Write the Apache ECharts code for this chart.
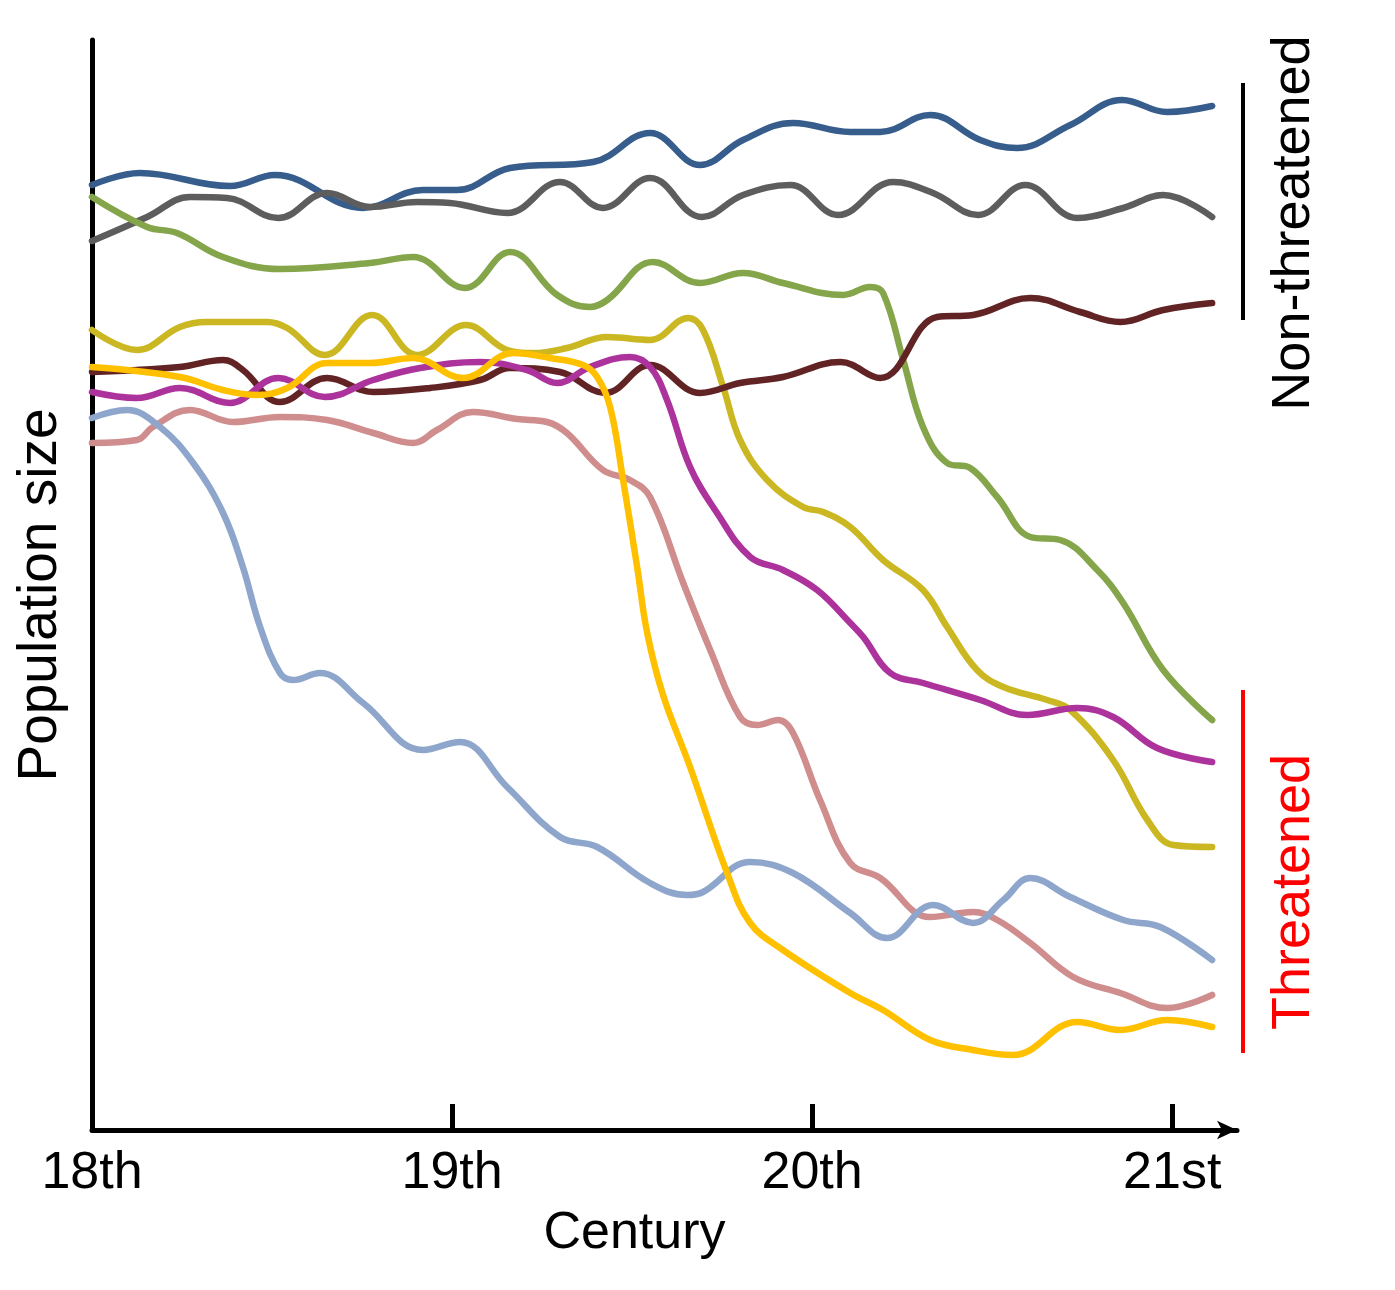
<!DOCTYPE html>
<html>
<head>
<meta charset="utf-8">
<script src="https://cdn.jsdelivr.net/npm/echarts@6/dist/echarts.min.js"></script>
<style>
  html, body { margin: 0; padding: 0; background: #fff; }
  #chart { width: 1395px; height: 1290px; }
</style>
</head>
<body>
<div id="chart"></div>
<script>
// x = centuries since start of 18th, y = population index
const centuryLabels = ['18th', '19th', '20th', '21st']

const darkBlue = [[0,945],[0.133,957],[0.383,944],[0.508,955],[0.753,922],[0.919,940],[1.014,940],[1.161,962],[1.392,968],[1.55,997],[1.689,965],[1.808,990],[1.947,1007],[2.106,998],[2.189,998],[2.328,1015],[2.467,990],[2.569,982],[2.717,1005],[2.861,1030],[2.986,1018],[3.111,1024]]
const grey = [[0,889],[0.153,913],[0.272,933],[0.375,932],[0.517,912],[0.653,937],[0.772,923],[0.903,928],[0.994,927],[1.153,917],[1.3,948],[1.419,922],[1.55,952],[1.694,913],[1.808,935],[1.939,945],[2.072,915],[2.225,948],[2.336,937],[2.461,915],[2.592,945],[2.736,912],[2.864,922],[2.975,935],[3.111,913]]
const green = [[0,933],[0.153,903],[0.236,897],[0.364,873],[0.522,861],[0.772,867],[0.892,873],[1.036,842],[1.161,878],[1.292,835],[1.383,823],[1.431,830],[1.558,868],[1.689,847],[1.808,857],[1.919,847],[2.086,835],[2.161,843],[2.197,837],[2.253,770],[2.308,703],[2.375,667],[2.439,662],[2.514,633],[2.606,593],[2.689,590],[2.792,560],[2.864,527],[2.975,460],[3.111,410]]
const olive = [[0,800],[0.125,780],[0.244,803],[0.319,808],[0.486,808],[0.542,802],[0.647,775],[0.778,815],[0.903,775],[1.039,805],[1.153,780],[1.225,777],[1.319,782],[1.431,793],[1.55,790],[1.656,812],[1.697,800],[1.753,743],[1.8,690],[1.875,650],[1.975,623],[2.031,618],[2.106,603],[2.197,570],[2.308,540],[2.375,503],[2.458,460],[2.531,443],[2.653,430],[2.717,420],[2.836,370],[2.931,310],[3.003,285],[3.111,283]]
const maroon = [[0,758],[0.244,763],[0.364,770],[0.419,760],[0.522,728],[0.653,752],[0.781,738],[0.939,742],[1.078,750],[1.161,762],[1.3,758],[1.425,737],[1.55,765],[1.689,737],[1.8,747],[1.919,753],[2.078,768],[2.189,752],[2.347,813],[2.447,815],[2.606,832],[2.744,818],[2.856,808],[2.975,820],[3.111,827]]
const purple = [[0,738],[0.125,732],[0.244,742],[0.383,727],[0.517,752],[0.647,733],[0.781,750],[0.911,762],[1.078,768],[1.208,760],[1.292,747],[1.383,763],[1.494,773],[1.55,763],[1.597,730],[1.661,663],[1.736,617],[1.828,573],[1.919,560],[2.014,540],[2.106,507],[2.142,493],[2.217,457],[2.308,447],[2.467,430],[2.597,415],[2.736,422],[2.836,413],[2.958,382],[3.111,368]]
const pink = [[0,687],[0.125,690],[0.169,703],[0.272,720],[0.392,708],[0.522,713],[0.653,710],[0.781,697],[0.892,687],[0.958,700],[1.058,718],[1.181,711],[1.264,708],[1.319,697],[1.419,660],[1.494,650],[1.55,633],[1.642,547],[1.717,480],[1.8,413],[1.847,405],[1.906,410],[1.947,397],[2.022,330],[2.106,267],[2.189,252],[2.328,213],[2.447,218],[2.514,210],[2.606,187],[2.725,153],[2.856,137],[2.986,122],[3.111,135]]
const lightBlue = [[0,712],[0.097,720],[0.189,703],[0.281,667],[0.364,617],[0.419,563],[0.467,503],[0.522,457],[0.558,450],[0.633,457],[0.753,427],[0.919,380],[1.022,388],[1.153,343],[1.3,293],[1.403,283],[1.55,247],[1.653,235],[1.697,238],[1.828,268],[1.947,257],[2.106,217],[2.208,192],[2.336,225],[2.447,207],[2.531,230],[2.606,252],[2.717,233],[2.864,210],[2.967,203],[3.111,170]]
const yellow = [[0,763],[0.244,753],[0.364,740],[0.458,735],[0.542,742],[0.653,767],[0.772,767],[0.892,772],[1.031,752],[1.169,777],[1.272,772],[1.364,765],[1.403,753],[1.439,723],[1.475,650],[1.514,563],[1.542,497],[1.586,435],[1.661,363],[1.764,257],[1.828,207],[1.919,180],[2.106,137],[2.197,120],[2.328,90],[2.447,80],[2.558,75],[2.736,108],[2.856,100],[2.986,110],[3.111,103]]

const seriesList = [
    {data: darkBlue, color: '#365D8B'},
    {data: grey, color: '#5D5D5D'},
    {data: green, color: '#85A54A'},
    {data: olive, color: '#CAB722'},
    {data: maroon, color: '#612323'},
    {data: purple, color: '#AD339C'},
    {data: pink, color: '#D08D8D'},
    {data: lightBlue, color: '#8EA6CB'},
    {data: yellow, color: '#FFC000'}
]

const font = '"Liberation Sans", Arial, sans-serif'

let myChart = echarts.init(document.getElementById('chart'))
myChart.setOption({
    animation: false,
    backgroundColor: '#fff',
    grid: {
        left: 92,
        right: 158,
        top: 40,
        bottom: 160
    },
    xAxis: {
        type: 'value',
        min: 0,
        max: 3.18,
        interval: 1,
        name: 'Century',
        nameLocation: 'middle',
        nameGap: 78,
        nameTextStyle: {fontSize: 52, color: '#000', fontFamily: font, padding: [0, 60, 0, 0]},
        axisLine: {
            show: true,
            symbol: ['none', 'arrow'],
            symbolSize: [14, 20],
            lineStyle: {color: '#000', width: 5}
        },
        axisTick: {
            show: true,
            inside: true,
            length: 26,
            customValues: [1, 2, 3],
            lineStyle: {color: '#000', width: 5}
        },
        axisLabel: {
            customValues: [0, 1, 2, 3],
            formatter: function (v) { return centuryLabels[Math.round(v)] },
            fontSize: 52,
            color: '#000',
            fontFamily: font,
            margin: 18
        },
        splitLine: {show: false}
    },
    yAxis: {
        type: 'value',
        min: 0,
        max: 1090,
        name: 'Population size',
        nameLocation: 'middle',
        nameGap: 24,
        nameTextStyle: {fontSize: 55, color: '#000', fontFamily: font, padding: [0, 20, 0, 0]},
        axisLine: {show: true, lineStyle: {color: '#000', width: 5}},
        axisTick: {show: false},
        axisLabel: {show: false},
        splitLine: {show: false}
    },
    graphic: [
        {type: 'line', shape: {x1: 1243, y1: 83, x2: 1243, y2: 320}, style: {stroke: '#000', lineWidth: 4}},
        {type: 'text', x: 1294, y: 223, rotation: Math.PI / 2,
            style: {text: 'Non-threatened', fill: '#000', font: '54px ' + font, textAlign: 'center', textVerticalAlign: 'middle'}},
        {type: 'line', shape: {x1: 1243, y1: 690, x2: 1243, y2: 1053}, style: {stroke: '#FF0000', lineWidth: 4}},
        {type: 'text', x: 1294, y: 892, rotation: Math.PI / 2,
            style: {text: 'Threatened', fill: '#FF0000', font: '54px ' + font, textAlign: 'center', textVerticalAlign: 'middle'}}
    ],
    series: seriesList.map(function (s) {
        return {
            type: 'line',
            data: s.data,
            smooth: 0.4,
            symbol: 'none',
            lineStyle: {color: s.color, width: 6.5, cap: 'round'}
        }
    })
})
</script>
</body>
</html>
